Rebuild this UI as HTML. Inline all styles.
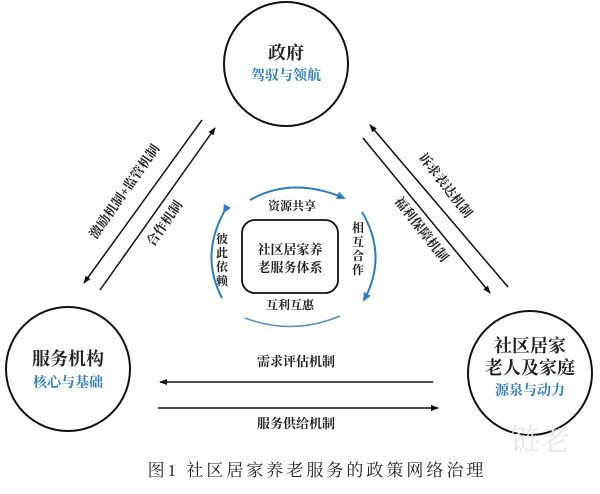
<!DOCTYPE html>
<html><head><meta charset="utf-8"><style>
html,body{margin:0;padding:0;background:#fff;}
svg{display:block;}
text{font-family:"Liberation Serif","Noto Serif CJK SC","Noto Sans CJK SC",serif;fill:#222;}
.b{fill:#2e7cc0;font-weight:bold;}
.t{font-weight:bold;}
</style></head><body>
<svg width="600" height="494" viewBox="0 0 600 494" xmlns="http://www.w3.org/2000/svg">
<defs>
<marker id="a" markerWidth="8" markerHeight="6" refX="7" refY="3" orient="auto" markerUnits="userSpaceOnUse"><path d="M0,0 L8,3 L0,6 Z" fill="#111"/></marker>
<marker id="ab" markerWidth="9" markerHeight="8" refX="7" refY="4" orient="auto" markerUnits="userSpaceOnUse"><path d="M0,0 L9,4 L0,8 Z" fill="#2e7cc0"/></marker>
</defs>
<circle cx="286" cy="64" r="62" fill="none" stroke="#111" stroke-width="2"/>
<circle cx="68" cy="369" r="62" fill="none" stroke="#111" stroke-width="2"/>
<circle cx="530" cy="373" r="62" fill="none" stroke="#111" stroke-width="2"/>
<text x="286" y="59" font-size="18" text-anchor="middle" class="t">政府</text>
<text x="286" y="80" font-size="14" text-anchor="middle" class="b">驾驭与领航</text>
<text x="68" y="365" font-size="18" text-anchor="middle" class="t">服务机构</text>
<text x="68" y="387" font-size="14" text-anchor="middle" class="b">核心与基础</text>
<text x="530" y="352" font-size="18" text-anchor="middle" class="t">社区居家</text>
<text x="530" y="374" font-size="18" text-anchor="middle" class="t">老人及家庭</text>
<text x="530" y="395" font-size="14" text-anchor="middle" class="b">源泉与动力</text>
<line x1="202" y1="120" x2="84" y2="283" stroke="#111" stroke-width="1.5" marker-end="url(#a)"/>
<line x1="100" y1="290" x2="215" y2="128" stroke="#111" stroke-width="1.5" marker-end="url(#a)"/>
<text font-size="13" class="t" text-anchor="middle" transform="translate(128,194) rotate(-55)">激励机制+监管机制</text>
<text font-size="13" class="t" text-anchor="middle" transform="translate(168,226) rotate(-55)">合作机制</text>
<line x1="508" y1="287" x2="370" y2="125" stroke="#111" stroke-width="1.5" marker-end="url(#a)"/>
<line x1="363" y1="138" x2="490" y2="293" stroke="#111" stroke-width="1.5" marker-end="url(#a)"/>
<text font-size="13" class="t" text-anchor="middle" transform="translate(442,188) rotate(52)">诉求表达机制</text>
<text font-size="13" class="t" text-anchor="middle" transform="translate(418,232) rotate(52)">福利保障机制</text>
<line x1="433" y1="382" x2="160" y2="382" stroke="#111" stroke-width="1.5" marker-end="url(#a)"/>
<line x1="158" y1="408" x2="438" y2="408" stroke="#111" stroke-width="1.5" marker-end="url(#a)"/>
<text x="296" y="366" font-size="13" class="t" text-anchor="middle">需求评估机制</text>
<text x="296" y="428" font-size="13" class="t" text-anchor="middle">服务供给机制</text>
<rect x="242" y="220" width="96" height="73" rx="13" fill="none" stroke="#111" stroke-width="1.8"/>
<text x="290" y="254" font-size="13" text-anchor="middle" class="t">社区居家养</text>
<text x="290" y="272" font-size="13" text-anchor="middle" class="t">老服务体系</text>
<text x="292" y="210" font-size="12" class="t" text-anchor="middle">资源共享</text>
<text x="290" y="309" font-size="12" class="t" text-anchor="middle">互利互惠</text>
<text font-size="12" class="t" text-anchor="middle"><tspan x="222" y="243">彼</tspan><tspan x="222" y="257">此</tspan><tspan x="222" y="271">依</tspan><tspan x="222" y="285">赖</tspan></text>
<text font-size="12" class="t" text-anchor="middle"><tspan x="358" y="232">相</tspan><tspan x="358" y="246">互</tspan><tspan x="358" y="260">合</tspan><tspan x="358" y="274">作</tspan></text>
<path d="M250,200 Q292,176 344,198" fill="none" stroke="#2e7cc0" stroke-width="2" marker-end="url(#ab)"/>
<path d="M340,316 Q292,336 245,318" fill="none" stroke="#5a8fbf" stroke-width="1.5"/>
<path d="M224,212 Q200,256 222,298" fill="none" stroke="#2e7cc0" stroke-width="2" marker-start="url(#ab)"/>
<path d="M362,212 Q388,256 364,300" fill="none" stroke="#2e7cc0" stroke-width="2" marker-end="url(#ab)"/>
<text x="317" y="476" font-size="17" letter-spacing="3" text-anchor="middle">图1 社区居家养老服务的政策网络治理</text>
<text x="510" y="450" font-size="30" style="fill:#e8e8e8">链老</text>
</svg>
</body></html>
